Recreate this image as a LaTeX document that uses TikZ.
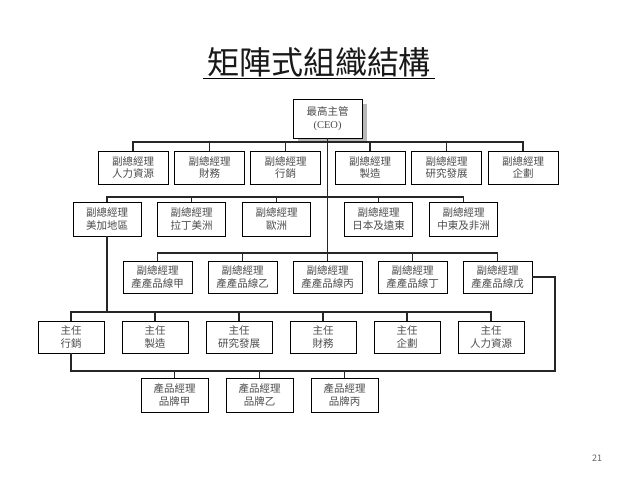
\documentclass[tikz,border=0pt]{standalone}
\usepackage{fontspec}
\setmainfont{Liberation Serif}
\newfontfamily\cjk{Noto Sans CJK TC}
\usepackage{tikz}
\usetikzlibrary{positioning,shadows,calc}

\begin{document}
\begin{tikzpicture}[x=1pt, y=-1pt,
  box/.style={draw, line width=0.9pt, fill=white, text=black!70, align=center,
    inner sep=0pt, font=\cjk\fontsize{10.5}{12.5}\selectfont},
  vpbox/.style={box, minimum width=70pt, minimum height=33pt},
  rgbox/.style={box, minimum width=68pt, minimum height=34pt},
  pdbox/.style={box, minimum width=69pt, minimum height=32pt},
  drbox/.style={box, minimum width=66pt, minimum height=32pt},
  brbox/.style={box, minimum width=67pt, minimum height=34pt},
  bus/.style={line width=1.2pt, black!85}
]
\useasboundingbox[fill=white] (0,0) rectangle (638,479);

% title
\node[font=\cjk\fontsize{32}{36}\selectfont, text=black!90] (title) at (319,62) {矩陣式組織結構};
\draw[line width=1.2pt] ([yshift=2pt]title.south west) -- ([yshift=2pt]title.south east);

% CEO
\node[box, minimum width=69pt, minimum height=39pt,
  drop shadow={shadow xshift=5pt, shadow yshift=-5pt, fill=black!28, opacity=1}]
  (ceo) at (327.5,118.5) {最高主管\\\rmfamily (CEO)};

% functional vice presidents
\node[vpbox] (vpHR)   at (133,167.5)   {副總經理\\人力資源};
\node[vpbox] (vpFin)  at (209.5,167.5) {副總經理\\財務};
\node[vpbox] (vpMkt)  at (285.5,167.5) {副總經理\\行銷};
\node[vpbox] (vpMfg)  at (370,167.5)   {副總經理\\製造};
\node[vpbox] (vpRD)   at (446.5,167.5) {副總經理\\研究發展};
\node[vpbox] (vpPlan) at (523,167.5)   {副總經理\\企劃};

% regional vice presidents
\node[rgbox] (rgAm)  at (107,219)   {副總經理\\美加地區};
\node[rgbox] (rgLat) at (191.5,219) {副總經理\\拉丁美洲};
\node[rgbox] (rgEu)  at (276.5,219) {副總經理\\歐洲};
\node[rgbox] (rgJp)  at (378.5,219) {副總經理\\日本及遠東};
\node[rgbox] (rgMe)  at (463.5,219) {副總經理\\中東及非洲};

% product line vice presidents
\node[pdbox] (pdA) at (157.5,277) {副總經理\\產產品線甲};
\node[pdbox] (pdB) at (242.5,277) {副總經理\\產產品線乙};
\node[pdbox] (pdC) at (327.5,277) {副總經理\\產產品線丙};
\node[pdbox] (pdD) at (412.5,277) {副總經理\\產產品線丁};
\node[pdbox] (pdE) at (497.5,277) {副總經理\\產產品線戊};

% directors
\node[drbox] (drMkt)  at (71,337)  {主任\\行銷};
\node[drbox] (drMfg)  at (155,337) {主任\\製造};
\node[drbox] (drRD)   at (239,337) {主任\\研究發展};
\node[drbox] (drFin)  at (323,337) {主任\\財務};
\node[drbox] (drPlan) at (407,337) {主任\\企劃};
\node[drbox] (drHR)   at (491,337) {主任\\人力資源};

% brand managers
\node[brbox] (brA) at (174.5,395) {產品經理\\品牌甲};
\node[brbox] (brB) at (259.5,395) {產品經理\\品牌乙};
\node[brbox] (brC) at (344.5,395) {產品經理\\品牌丙};

% bus levels
\coordinate (busA) at (327.5,142);
\coordinate (busB) at (327.5,197);
\coordinate (busC) at (327.5,253);
\coordinate (busD) at (107,312);
\coordinate (busE) at (555,371);

\draw[bus] (ceo.south) -- (pdC.north);
\draw[bus] (vpHR.north) |- (busA) -| (vpPlan.north);
\foreach \n in {vpFin,vpMkt,vpMfg,vpRD}
  \draw[bus] (\n.north) -- (\n.north |- busA);
\draw[bus] (rgAm.north) |- (busB) -| (rgMe.north);
\foreach \n in {rgLat,rgEu,rgJp}
  \draw[bus] (\n.north) -- (\n.north |- busB);
\draw[bus] (pdA.north) |- (busC) -| (pdE.north);
\foreach \n in {pdB,pdD}
  \draw[bus] (\n.north) -- (\n.north |- busC);
\draw[bus] (rgAm.south) -- (busD);
\draw[bus] (drMkt.north) |- (busD) -| (drHR.north);
\foreach \n in {drMfg,drRD,drFin,drPlan}
  \draw[bus] (\n.north) -- (\n.north |- busD);
\draw[bus] (pdE.east) -| (busE) -| (drMkt.south);
\foreach \n in {brA,brB,brC}
  \draw[bus] (\n.north) -- (\n.north |- busE);

% page number
\node[font=\cjk\fontsize{9}{10}\selectfont, text=black!60] (page) at (597,458) {21};
\end{tikzpicture}
\end{document}
